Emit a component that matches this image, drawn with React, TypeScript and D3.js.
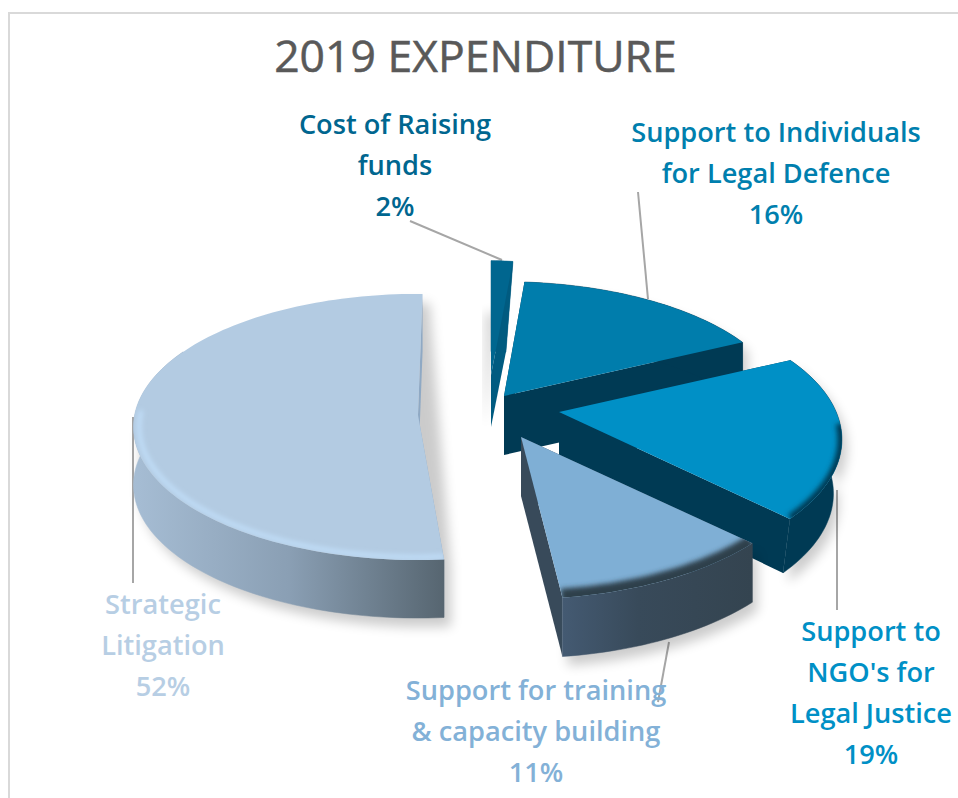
import React from "react";
import * as d3 from "d3";

const categories = ["Cost of Raising funds", "Support to Individuals for Legal Defence", "Support to NGO's for Legal Justice", "Support for training & capacity building", "Strategic Litigation"];
const values = [2, 16, 19, 11, 52];
const percentLabels = ["2%", "16%", "19%", "11%", "52%"];
const labelLines = [["Cost of Raising", "funds", "2%"], ["Support to Individuals", "for Legal Defence", "16%"], ["Support to", "NGO's for", "Legal Justice", "19%"], ["Support for training", "& capacity building", "11%"], ["Strategic", "Litigation", "52%"]];
const topColors = ["#00668f", "#007dac", "#0090c6", "#7fafd5", "#b3cbe2"];
const textColors = ["#00668f", "#007fae", "#0090c6", "#83b1d7", "#b7cee4"];
const wallColors = ["#005b80", "#003a54", "#003a54", "#384a5a", "#8fa9c4"];

// layout, slice by slice, in draw order
const RX = 280, RY = 132;
const persp = [0.12, 0.12, 0.2, 0.12, 0.09];
const apexes = [[491, 375], [504, 396], [559, 412], [521, 437], [418, 415]];
const scaleX = [0.7, 1.0, 0.99, 1.04, 1.012];
const scaleY = [0.97, 0.97, 1.0, 1.08, 1.0];
const startShift = [0, -2.5, 0, 0, 2.4];
const endShift = [0, -1, 1, 0, 1];
const outerWallEnd = [360, 90, 360, 360, 300];
const depths = [52, 59, 54, 59, 58];
const botX = [0.68, 1, 0.97, 1, 1];
const botY = [0.66, 1, 1, 1, 1];
const bevelRange = [null, null, [95, 134], [133, 173], [175, 272]];
const bevelColor = ["", "", "#003a54", "#2f3f4b", "#c2e0fb"];
const bevelWidth = [0, 0, 9, 18, 4];
const bevelInset = [1, 1, 1, 1, 0.98];
const leaderLines = [[[410, 221], [502, 260]], [[638, 192], [648, 299]], [[837, 490], [837, 610]], [[669, 642], [658, 702]], [[133, 417], [133, 583]]];
const labelCenters = [[395, 124], [776, 132], [871, 631], [536, 690], [163, 604]];

const pie = d3.pie<number>().sort(null).startAngle(0).endAngle(2 * Math.PI);
const arcs = pie(values);
const lineGen = d3.line<number[]>().x((d) => d[0]).y((d) => d[1]);

function project(i: number, deg: number, fx = 1, fy = 1, dy = 0, inset = 1): number[] {
  const t = (deg * Math.PI) / 180;
  const v = -Math.cos(t);
  const s = 1 / (1 - persp[i] * v);
  return [
    apexes[i][0] + RX * scaleX[i] * inset * fx * Math.sin(t) * s,
    apexes[i][1] + RY * scaleY[i] * inset * fy * v * s + dy,
  ];
}
function arcPts(i: number, a0: number, a1: number, fx = 1, fy = 1, dy = 0, inset = 1) {
  const n = Math.max(2, Math.ceil(Math.abs(a1 - a0) / 1.5));
  return d3.range(n + 1).map((k) => project(i, a0 + ((a1 - a0) * k) / n, fx, fy, dy, inset));
}
const deg = (r: number) => (r * 180) / Math.PI;

function Slice({ i }: { i: number }) {
  const a0 = deg(arcs[i].startAngle) + startShift[i];
  const a1 = deg(arcs[i].endAngle) + endShift[i];
  const d = depths[i];
  const apex = apexes[i];
  const apexB = [apex[0], apex[1] + d];
  const top = [apex, ...arcPts(i, a0, a1)];
  const botArc = arcPts(i, a0, a1, botX[i], botY[i], d);
  const wallEnd = Math.min(a1, outerWallEnd[i]);
  const outerWall = [...arcPts(i, a0, wallEnd), ...arcPts(i, a0, wallEnd, botX[i], botY[i], d).reverse()];
  const startWall = [apex, project(i, a0), botArc[0], apexB];
  const endWall = [apex, project(i, a1), botArc[botArc.length - 1], apexB];
  const silhouette = d3.polygonHull([...top, ...botArc, apexB] as [number, number][]);
  const fillWall = i === 4 ? "url(#wallStrategic)" : i === 3 ? "url(#wallTraining)" : wallColors[i];
  const range = bevelRange[i];
  return (
    <g>
      <clipPath id={`clip${i}`}><path d={lineGen(top) + "Z"} /></clipPath>
      {i === 1 || i === 2 || i === 3 ? (
        <path d={lineGen(outerWall) + "Z"} transform="translate(5,9)" fill="#000" opacity={0.2} filter="url(#shadow)" />
      ) : null}
      {i === 4 ? (
        <path d={lineGen(silhouette as any) + "Z"} transform="translate(7,9)" fill="#000" opacity={0.2} filter="url(#shadow)" />
      ) : null}
      {i === 0 ? (
        <path d={lineGen([[491, 313], [491, 427], [495, 395], [505, 313]]) + "Z"} transform="translate(-6,0)" fill="#000" opacity={0.16} filter="url(#shadow)" />
      ) : null}
      <path d={lineGen(startWall) + "Z"} fill={wallColors[i]} />
      <path d={lineGen(endWall) + "Z"} fill={wallColors[i]} />
      <path d={lineGen(outerWall) + "Z"} fill={fillWall} stroke={fillWall} strokeWidth={0.5} />
      <path d={lineGen(top) + "Z"} fill={topColors[i]} />
      {range ? (
        <g clipPath={`url(#clip${i})`}>
          <path
            d={lineGen(arcPts(i, range[0], range[1], 1, 1, 0, bevelInset[i])) as string}
            fill="none"
            stroke={bevelColor[i]}
            strokeWidth={bevelWidth[i]}
            filter="url(#bevel)"
          />
        </g>
      ) : null}
    </g>
  );
}

export default function App() {
  return (
    <svg width={958} height={798} style={{ position: "absolute", left: 0, top: 0, background: "#fff" }} fontFamily="'Open Sans', sans-serif" role="img" aria-label={categories.join(", ")}>
      <defs>
        <filter id="shadow" x="-20%" y="-20%" width="140%" height="140%"><feGaussianBlur stdDeviation={6} /></filter>
        <filter id="bevel" x="-20%" y="-20%" width="140%" height="140%"><feGaussianBlur stdDeviation={2.5} /></filter>
        <linearGradient id="wallStrategic" gradientUnits="userSpaceOnUse" x1={133} x2={445} y1={0} y2={0}>
          <stop offset="0" stopColor="#a6bdd4" />
          <stop offset="0.5" stopColor="#8a9fb4" />
          <stop offset="1" stopColor="#566570" />
        </linearGradient>
        <linearGradient id="wallTraining" gradientUnits="userSpaceOnUse" x1={563} x2={752} y1={0} y2={0}>
          <stop offset="0" stopColor="#445a72" />
          <stop offset="0.4" stopColor="#384a5a" />
          <stop offset="1" stopColor="#344450" />
        </linearGradient>
      </defs>
      <path d="M9,798V13H958" fill="none" stroke="#d9d9d9" strokeWidth={2} />
      <text x={475.5} y={72} textAnchor="middle" fontSize={44.5} fontWeight={500} fill="#595959" stroke="#595959" strokeWidth={0.5}>2019 EXPENDITURE</text>
      {leaderLines.map((l, i) => (
        <path key={i} d={lineGen(l) as string} fill="none" stroke="#a6a6a6" strokeWidth={2} />
      ))}
      {values.map((_, i) => <Slice key={i} i={i} />)}
      {labelLines.map((lines, i) => (
        <text key={i} textAnchor="middle" fontSize={27.2} fontWeight={600} fill={textColors[i]} aria-label={percentLabels[i]}>
          {lines.map((t, k) => (
            <tspan key={k} x={labelCenters[i][0]} y={labelCenters[i][1] + 10 + k * 41}>{t}</tspan>
          ))}
        </text>
      ))}
    </svg>
  );
}
